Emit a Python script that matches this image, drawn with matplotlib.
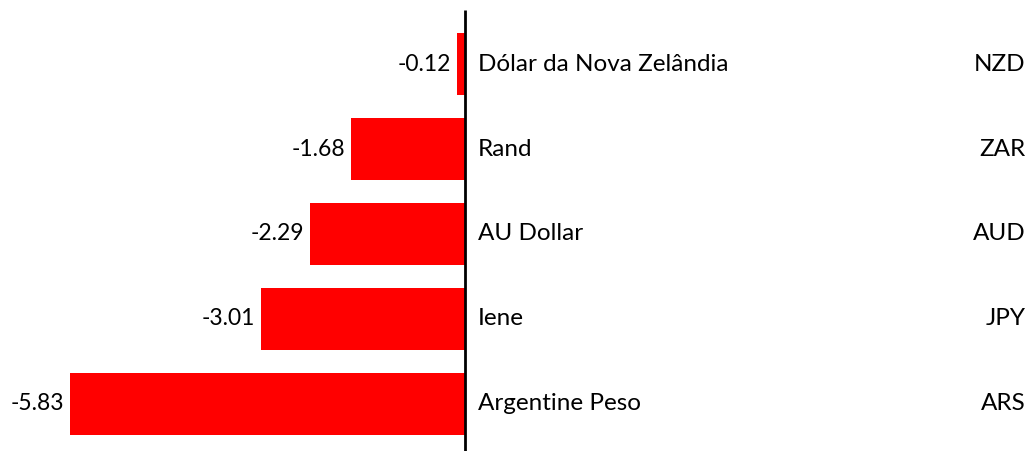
import matplotlib
matplotlib.use("Agg")
import matplotlib.pyplot as plt

# data, bottom to top
names = ["Argentine Peso", "Iene", "AU Dollar", "Rand", "Dólar da Nova Zelândia"]
codes = ["ARS", "JPY", "AUD", "ZAR", "NZD"]
values = [-5.83, -3.01, -2.29, -1.68, -0.12]

plt.rcParams['font.family'] = ['Lato', 'DejaVu Sans']

fig = plt.figure(figsize=(10.30, 4.51), dpi=100)
ax = fig.add_axes([0, 0, 1, 1])

ypos = list(range(len(values)))
ax.barh(ypos, values, height=0.74, color='#ff0000')

for y, v, n, c in zip(ypos, values, names, codes):
    ax.text(v - 0.09, y, f"{v:.2f}", ha='right', va='center', fontsize=16.5)
    ax.text(0.19, y, n, ha='left', va='center', fontsize=17.5)
    ax.text(8.27, y, c, ha='right', va='center', fontsize=17.5)

ax.vlines(0, -0.56, 4.635, color='black', lw=2)

ax.set_xlim(-6.863, 8.339)
ax.set_ylim(-0.553, 4.753)
ax.axis('off')

fig.savefig('out.png', dpi=100)
plt.close('all')
